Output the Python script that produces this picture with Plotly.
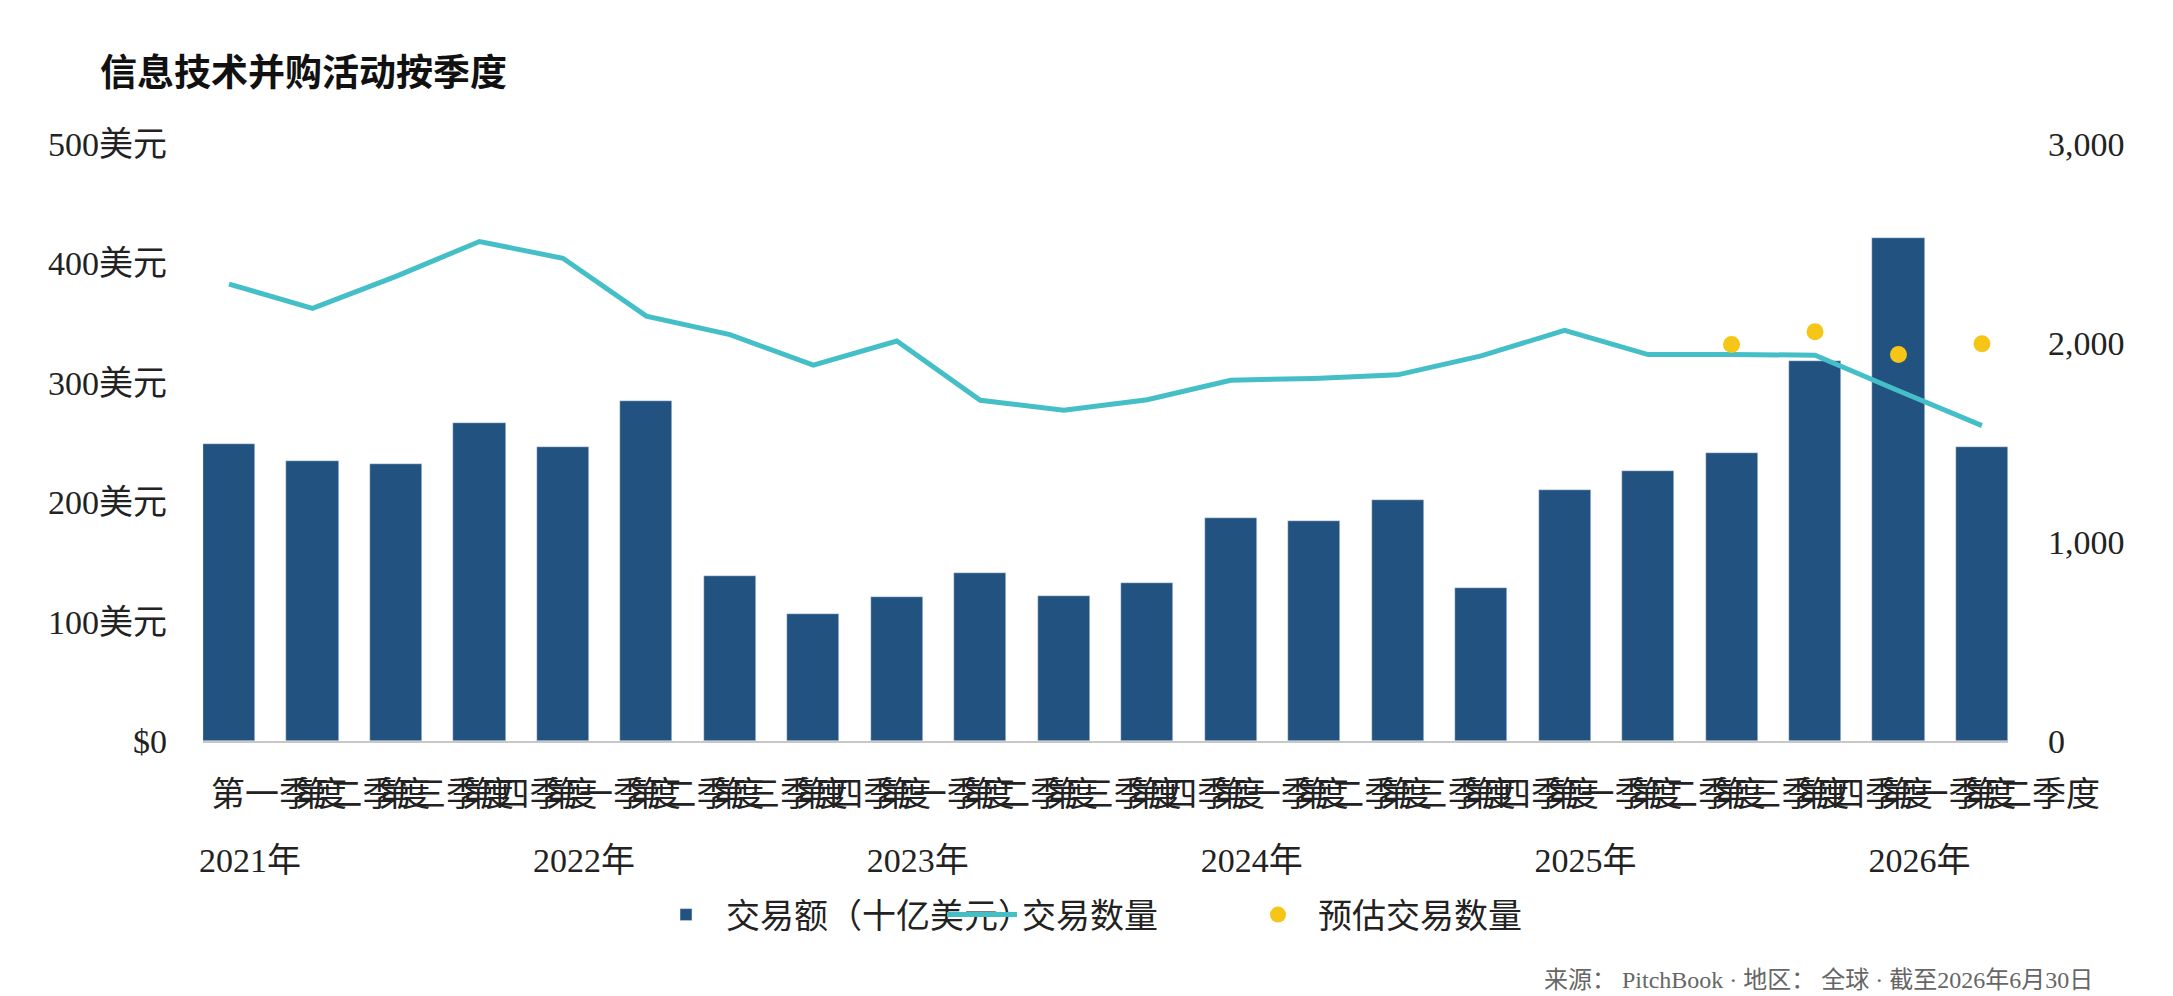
import plotly.graph_objects as go

quarter_names = ["第一季度", "第二季度", "第三季度", "第四季度"]
years = ["2021年", "2022年", "2023年", "2024年", "2025年", "2026年"]
n_quarters = 22
quarter_labels = [quarter_names[i % 4] for i in range(n_quarters)]
deal_value = [249, 234.5, 232, 266, 246, 285, 138, 106, 120.5, 141, 121.5, 132,
              187, 184.5, 201.5, 128, 210.5, 226.5, 241, 318, 421, 246.5]
deal_count = [2296, 2174, 2335, 2510, 2426, 2135, 2042, 1889, 2010, 1712, 1662, 1715,
              1813, 1822, 1840, 1935, 2064, 1942, 1942, 1939, 1760, 1585]
est_count = [None] * 18 + [1992, 2056, 1942, 1996]
left_ticks = [0, 100, 200, 300, 400, 500]
left_ticktext = ["$0", "100美元", "200美元", "300美元", "400美元", "500美元"]
right_ticks = [0, 1000, 2000, 3000]

x = list(range(n_quarters))
year_pos = x[::4]

BAR = "#22527F"
LINE = "#45BFC7"
DOT = "#F5C518"
FONT = "Liberation Serif, Noto Sans CJK SC, serif"
BW = 0.624

fig = go.Figure()
fig.add_trace(go.Bar(x=x, y=deal_value, name="交易额（十亿美元）", marker_color=BAR,
                     width=BW, xaxis="x", yaxis="y"))
fig.add_trace(go.Scatter(x=x, y=deal_count, name="交易数量", mode="lines",
                         line=dict(color=LINE, width=5), xaxis="x", yaxis="y2"))
fig.add_trace(go.Scatter(x=x, y=est_count, name="预估交易数量", mode="markers",
                         marker=dict(color=DOT, size=17), xaxis="x2", yaxis="y2"))

rng = [-BW / 2, n_quarters - 1 + BW / 2]
fig.update_layout(
    width=2173, height=996,
    margin=dict(l=203, r=165, t=144, b=255),
    paper_bgcolor="white", plot_bgcolor="white",
    font=dict(family=FONT, size=34, color="#222"),
    title=dict(text="<b>信息技术并购活动按季度</b>", xref="container", yref="container",
               x=100 / 2173, xanchor="left", y=1 - 73 / 996, yanchor="middle",
               font=dict(family="Noto Sans CJK SC", size=37, color="#111")),
    bargap=0,
    xaxis=dict(range=rng, tickmode="array", tickvals=x, ticktext=quarter_labels,
               tickangle=0, showgrid=False, zeroline=False, showline=True,
               linecolor="#C8C8C8", linewidth=2, ticks="", ticklabelshift=50,
               ticklabelstandoff=22),
    xaxis2=dict(range=rng, overlaying="x", side="bottom", anchor="y", tickmode="array",
                tickvals=year_pos, ticktext=years, tickangle=0, showgrid=False,
                zeroline=False, showline=False, ticks="", ticklabelshift=21,
                ticklabelstandoff=96),
    yaxis=dict(range=[0, 500], tickmode="array", tickvals=left_ticks, ticktext=left_ticktext,
               showgrid=False, zeroline=False, showline=False, ticks="",
               ticklabelstandoff=35),
    yaxis2=dict(range=[0, 3000], tickmode="array", tickvals=right_ticks, tickformat=",",
                overlaying="y", side="right", anchor="x", showgrid=False, zeroline=False,
                showline=False, ticks="", ticklabelstandoff=39),
    legend=dict(orientation="h", x=(646 - 203) / 1805, xanchor="left",
                y=-(915 - 741) / 597, yanchor="middle", itemwidth=70,
                entrywidth=211, entrywidthmode="pixels",
                font=dict(family=FONT, size=34, color="#222"), traceorder="normal"),
    showlegend=True,
)

fig.add_annotation(text="来源： PitchBook · 地区： 全球 · 截至2026年6月30日",
                   xref="paper", yref="paper", x=(2095 - 203) / 1805, xanchor="right",
                   y=-(980 - 741) / 597, yanchor="middle", showarrow=False,
                   font=dict(family=FONT, size=24, color="#666"))

fig.write_html("out.html")
